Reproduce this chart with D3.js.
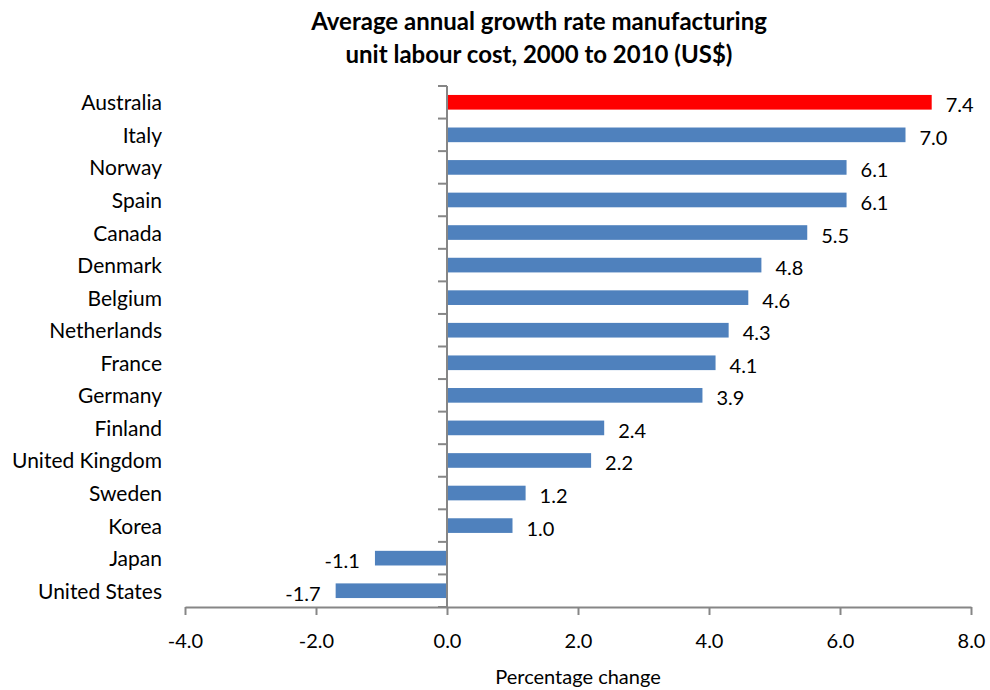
<!DOCTYPE html>
<html lang="en">
<head>
    <meta charset="UTF-8">
    <title>Unit labour cost growth</title>
    <script src="https://d3js.org/d3.v7.min.js"></script>
    <style>
        body { margin: 0; background: #fff; font-family: Lato, "Open Sans", sans-serif; }
        .title { font-size: 24px; font-weight: bold; fill: #000; }
        .cat { font-size: 21px; fill: #000; }
        .val, .tick-label { font-size: 20px; fill: #000; }
        .axis-title { font-size: 20px; fill: #000; }
    </style>
</head>
<body>
    <svg width="990" height="690"></svg>

    <script>
        const countries = ["Australia", "Italy", "Norway", "Spain", "Canada", "Denmark", "Belgium",
            "Netherlands", "France", "Germany", "Finland", "United Kingdom", "Sweden", "Korea",
            "Japan", "United States"];
        const growth = [7.4, 7.0, 6.1, 6.1, 5.5, 4.8, 4.6, 4.3, 4.1, 3.9, 2.4, 2.2, 1.2, 1.0, -1.1, -1.7];
        const xTicks = [-4, -2, 0, 2, 4, 6, 8];
        const highlight = "Australia";

        const data = countries.map((c, i) => ({ country: c, value: growth[i] }));

        const svg = d3.select("svg");
        const axisColor = "#868686";

        const x = d3.scaleLinear().domain([-4, 8]).range([185, 971]);
        const y = d3.scaleBand().domain(countries).range([86, 607])
            .paddingInner(0.55).paddingOuter(0.275);
        const step = y.step();

        // title
        svg.append("text").attr("class", "title").attr("text-anchor", "middle")
            .attr("x", 539).attr("y", 30).text("Average annual growth rate manufacturing");
        svg.append("text").attr("class", "title").attr("text-anchor", "middle")
            .attr("x", 539).attr("y", 63).text("unit labour cost, 2000 to 2010 (US$)");

        // bars
        svg.selectAll(".bar").data(data).enter().append("rect")
            .attr("class", "bar")
            .attr("x", d => x(Math.min(0, d.value)))
            .attr("width", d => Math.abs(x(d.value) - x(0)))
            .attr("y", d => y(d.country))
            .attr("height", y.bandwidth())
            .attr("fill", d => d.country === highlight ? "#ff0000" : "#4f81bd");

        // value labels
        svg.selectAll(".val").data(data).enter().append("text")
            .attr("class", "val")
            .attr("x", d => d.value >= 0 ? x(d.value) + 14 : x(d.value) - 15)
            .attr("y", d => y(d.country) + y.bandwidth() / 2 + 10)
            .attr("text-anchor", d => d.value >= 0 ? "start" : "end")
            .text(d => d.value.toFixed(1));

        // vertical axis at zero
        const yAxis = svg.append("g");
        yAxis.append("line")
            .attr("x1", x(0)).attr("x2", x(0))
            .attr("y1", 86).attr("y2", 607)
            .attr("stroke", axisColor).attr("stroke-width", 2);
        yAxis.selectAll(".ytick").data(d3.range(countries.length + 1)).enter().append("line")
            .attr("x1", x(0) - 9).attr("x2", x(0))
            .attr("y1", i => 86 + i * step).attr("y2", i => 86 + i * step)
            .attr("stroke", axisColor).attr("stroke-width", 2);

        // category labels
        svg.selectAll(".cat").data(countries).enter().append("text")
            .attr("class", "cat")
            .attr("x", 162)
            .attr("y", d => y(d) + y.bandwidth() / 2 + 8)
            .attr("text-anchor", "end")
            .text(d => d);

        // horizontal axis
        const xAxis = svg.append("g").attr("transform", "translate(0,607)")
            .call(d3.axisBottom(x).tickValues(xTicks).tickSize(8).tickSizeOuter(0)
                .tickFormat(d => d.toFixed(1)));
        xAxis.select(".domain").attr("stroke", axisColor).attr("stroke-width", 2);
        xAxis.selectAll(".tick line").attr("stroke", axisColor).attr("stroke-width", 2);
        xAxis.selectAll(".tick text").attr("class", "tick-label").attr("fill", "#000")
            .attr("y", 0).attr("dy", 41)
            .style("font-family", "Lato, sans-serif").style("font-size", "20px");

        svg.append("text").attr("class", "axis-title").attr("text-anchor", "middle")
            .attr("x", 578).attr("y", 684).text("Percentage change");
    </script>
</body>
</html>
